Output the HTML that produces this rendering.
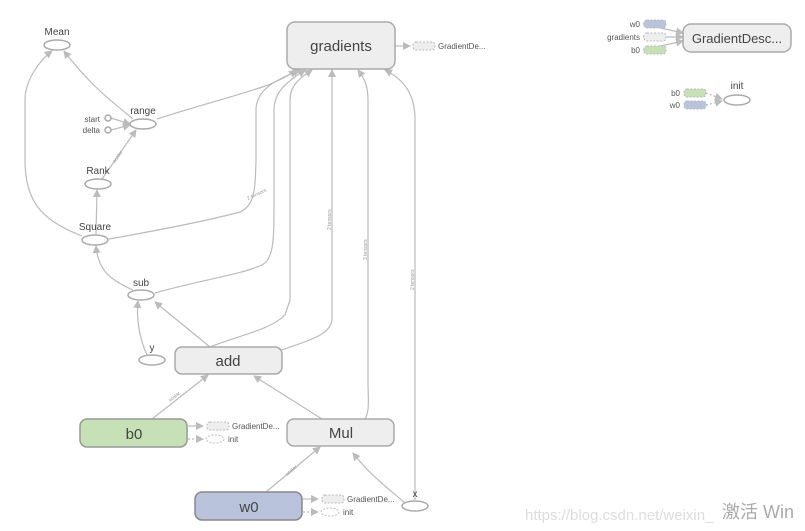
<!DOCTYPE html>
<html><head><meta charset="utf-8"><style>
html,body{margin:0;padding:0;background:#fff;width:805px;height:531px;overflow:hidden}
svg{font-family:"Liberation Sans","Noto Sans CJK SC",sans-serif}
</style></head><body>
<svg width="805" height="531" viewBox="0 0 805 531" xmlns="http://www.w3.org/2000/svg">
<defs>
<marker id="a" markerWidth="8" markerHeight="8" refX="7" refY="4" orient="auto" markerUnits="userSpaceOnUse"><path d="M0,0 L8,4 L0,8 z" fill="#bbb"/></marker>
</defs>
<g fill="none" stroke="#bbb" stroke-width="1.2" marker-end="url(#a)">
<!-- into Mean -->
<path d="M82,236 C40,220 25,200 25,160 L25,100 C25,80 40,60 52,51"/>
<path d="M133,119 C110,100 90,85 64,51"/>
<!-- range -->
<path d="M111,118 L130,124"/>
<path d="M111,130 L130,125"/>
<path d="M102,179 L136,130"/>
<!-- Rank from Square -->
<path d="M96,234 L97,190"/>
<!-- Square from sub -->
<path d="M133,290 C110,280 98,270 96,246"/>
<!-- sub -->
<path d="M147,355 C140,340 136,320 138,301"/>
<path d="M210,347 L155,302"/>
<!-- into gradients -->
<path d="M157,119 C200,105 240,95 268,85 C280,80 290,75 296,70"/>
<path d="M109,239 C160,230 210,220 240,212 C255,205 255,190 256,160 L256,110 C256,90 275,80 300,70"/>
<path d="M155,293 C200,280 240,275 262,265 C274,258 274,240 274,200 L274,110 C274,90 290,80 305,70"/>
<path d="M210,347 C240,335 270,330 285,315 L290,300 L290,100 C290,85 300,78 312,70"/>
<path d="M282,350 C310,340 330,335 332,320 L332,70"/>
<path d="M365,419 C370,410 368,400 368,380 L368,100 C368,85 364,78 358,70"/>
<path d="M415,500 L415,120 C415,95 405,80 385,70"/>
<!-- add inputs -->
<path d="M152,419 L208,375"/>
<path d="M322,419 L254,376"/>
<!-- Mul inputs -->
<path d="M266,492 L320,447"/>
<path d="M405,503 C390,490 370,475 353,453"/>
<!-- GradientDe stubs -->
<path d="M395,46 L410,46"/>
<path d="M188,426 L203,426"/>
<path d="M303,499 L318,499"/>
<path d="M643,24 L683,33"/>
<path d="M643,37 L683,37"/>
<path d="M643,50 L683,41"/>
</g>
<g fill="none" stroke="#bbb" stroke-width="1.2" stroke-dasharray="2,2" marker-end="url(#a)">
<path d="M188,439 L203,439"/>
<path d="M303,512 L318,512"/>
<path d="M706,93 L722,99"/>
<path d="M706,105 L722,101"/>
</g>
<!-- small dashed nodes -->
<g stroke="#bbb" stroke-dasharray="2,1.5" stroke-width="1">
<rect x="413" y="42" width="22" height="8" rx="3" fill="#eee"/>
<rect x="207" y="422" width="22" height="8" rx="3" fill="#eee"/>
<ellipse cx="215" cy="439" rx="9" ry="4" fill="#fff"/>
<rect x="322" y="495" width="22" height="8" rx="3" fill="#eee"/>
<ellipse cx="330" cy="512" rx="9" ry="4" fill="#fff"/>
<rect x="644" y="20" width="22" height="8" rx="3" fill="#b9c4dc"/>
<rect x="644" y="33" width="22" height="8" rx="3" fill="#eee"/>
<rect x="644" y="46" width="22" height="8" rx="3" fill="#c5e1b5"/>
<rect x="684" y="89" width="22" height="8" rx="3" fill="#c5e1b5"/>
<rect x="684" y="101" width="22" height="8" rx="3" fill="#b9c4dc"/>
</g>
<!-- main nodes -->
<g stroke="#aaa" stroke-width="1.5">
<rect x="287" y="22" width="108" height="47" rx="8" fill="#eee"/>
<rect x="175" y="347" width="107" height="27" rx="7" fill="#eee"/>
<rect x="80" y="419" width="107" height="28" rx="7" fill="#c5e1b5" stroke="#999"/>
<rect x="287" y="419" width="107" height="27" rx="7" fill="#eee"/>
<rect x="195" y="492" width="107" height="28" rx="7" fill="#b9c4dc" stroke="#888"/>
<rect x="683" y="24" width="108" height="28" rx="8" fill="#eee"/>
<g fill="#fff">
<ellipse cx="57" cy="45" rx="13" ry="5"/>
<ellipse cx="143" cy="124" rx="13" ry="5"/>
<circle cx="108" cy="118" r="3"/>
<circle cx="108" cy="130" r="3"/>
<ellipse cx="98" cy="184" rx="13" ry="5"/>
<ellipse cx="95" cy="240" rx="13" ry="5"/>
<ellipse cx="141" cy="295" rx="13" ry="5"/>
<ellipse cx="152" cy="360" rx="13" ry="5"/>
<ellipse cx="415" cy="506" rx="13" ry="5"/>
<ellipse cx="737" cy="100" rx="13" ry="5"/>
</g>
</g>
<g fill="#444" text-anchor="middle">
<text x="341" y="51" font-size="15">gradients</text>
<text x="228" y="366" font-size="15">add</text>
<text x="134" y="439" font-size="15">b0</text>
<text x="341" y="438" font-size="15">Mul</text>
<text x="249" y="512" font-size="15">w0</text>
<text x="737" y="43" font-size="13">GradientDesc...</text>
<g font-size="10">
<text x="57" y="35">Mean</text>
<text x="143" y="114">range</text>
<text x="98" y="174">Rank</text>
<text x="95" y="230">Square</text>
<text x="141" y="286">sub</text>
<text x="152" y="351">y</text>
<text x="415" y="497">x</text>
<text x="737" y="89">init</text>
</g>
</g>
<g fill="#555" font-size="8">
<text x="100" y="122" text-anchor="end">start</text>
<text x="100" y="133" text-anchor="end">delta</text>
<text x="438" y="49">GradientDe...</text>
<text x="232" y="429">GradientDe...</text>
<text x="228" y="442">init</text>
<text x="347" y="502">GradientDe...</text>
<text x="343" y="515">init</text>
<text x="640" y="27" text-anchor="end">w0</text>
<text x="640" y="40" text-anchor="end">gradients</text>
<text x="640" y="53" text-anchor="end">b0</text>
<text x="680" y="96" text-anchor="end">b0</text>
<text x="680" y="108" text-anchor="end">w0</text>
</g>
<g fill="#999" font-size="5">
<text transform="translate(248,200) rotate(-25)">2 tensors</text>
<text transform="translate(331,230) rotate(-90)">2 tensors</text>
<text transform="translate(367,260) rotate(-90)">3 tensors</text>
<text transform="translate(414,290) rotate(-90)">2 tensors</text>
<text transform="translate(115,163) rotate(-55)">scalar</text>
<text transform="translate(170,402) rotate(-38)">scalar</text>
<text transform="translate(287,476) rotate(-40)">scalar</text>
</g>
<text x="525" y="520" font-size="15" fill="#ddd">https://blog.csdn.net/weixin_</text>
<text x="722" y="518" font-size="18" fill="#aaa">激活 Win</text>
</svg>
</body></html>
